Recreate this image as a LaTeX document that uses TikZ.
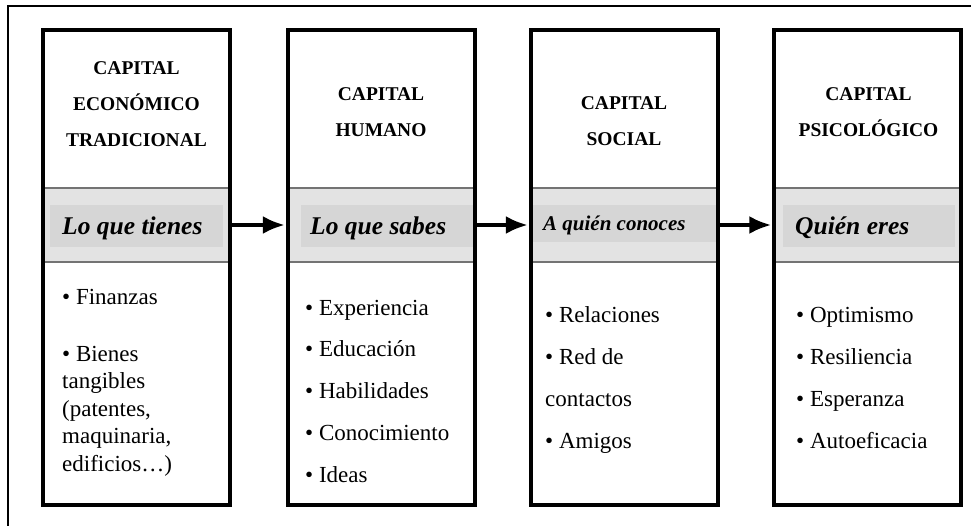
\documentclass[tikz,border=0pt]{standalone}
\usepackage{fontspec}
\setmainfont{Liberation Serif}
\usepackage{tikz}
\usetikzlibrary{positioning,arrows.meta}
\definecolor{grisclaro}{gray}{0.89}
\definecolor{grismedio}{gray}{0.84}

\begin{document}
\begin{tikzpicture}[x=1pt,y=-1pt,
	caja/.style={draw,line width=4pt,minimum width=187pt,minimum height=475pt,inner sep=0pt},
	franja/.style={fill=grisclaro,draw=black!55,line width=1.2pt,minimum width=187pt,minimum height=74pt,inner sep=0pt},
	titulo/.style={align=center,font=\fontsize{19.5}{36}\selectfont\bfseries,anchor=base},
	lema/.style={font=\fontsize{25.5}{30}\selectfont\bfseries\itshape,anchor=base west,inner sep=0pt},
	lista/.style={align=left,font=\fontsize{23}{41.7}\selectfont,anchor=base west,inner sep=0pt},
	flecha/.style={line width=4pt,-{Latex[length=22pt,width=18pt]},shorten >=2pt}]
	\useasboundingbox (0,0) rectangle (971,526);
	\draw[line width=1.2pt] (971,6) -| (8,526);

	% franjas grises
	\node[franja] (franja1) at (136.5,225) {};
	\node[franja] (franja2) at (381,225) {};
	\node[franja] (franja3) at (624,225) {};
	\node[franja] (franja4) at (867.5,225) {};
	\fill[grismedio] (50,205) rectangle (223,247);
	\fill[grismedio] (301,205) rectangle (473,247);
	\fill[grismedio] (531,205) rectangle (716,242);
	\fill[grismedio] (783,205) rectangle (955,247);

	% columnas
	\node[caja] (caja1) at (136.5,267.5) {};
	\node[caja] (caja2) at (381,267.5) {};
	\node[caja] (caja3) at (624,267.5) {};
	\node[caja] (caja4) at (867.5,267.5) {};

	% (base = ultima linea)
	\node[titulo] (titulo1) at (136.5,147) {CAPITAL\\ECONÓMICO\\TRADICIONAL};
	\node[titulo] (titulo2) at (381,137) {CAPITAL\\HUMANO};
	\node[titulo] (titulo3) at (624,146) {CAPITAL\\SOCIAL};
	\node[titulo] (titulo4) at (868.5,137) {CAPITAL\\PSICOLÓGICO};

	\node[lema] (lema1) at (62,235) {Lo que tienes};
	\node[lema] (lema2) at (310,235) {Lo que sabes};
	\node[lema,font=\fontsize{21}{25}\selectfont\bfseries\itshape] (lema3) at (543,231) {A quién conoces};
	\node[lema] (lema4) at (795,235) {Quién eres};

	\node[lista,font=\fontsize{23}{27.5}\selectfont] (lista1) at (62,471) {• Finanzas\\[29.5pt]• Bienes\\tangibles\\(patentes,\\maquinaria,\\edificios…)};
	\node[lista] (lista2) at (305,482) {• Experiencia\\• Educación\\• Habilidades\\• Conocimiento\\• Ideas};
	\node[lista] (lista3) at (545,448) {• Relaciones\\• Red de\\contactos\\• Amigos};
	\node[lista] (lista4) at (796,448) {• Optimismo\\• Resiliencia\\• Esperanza\\• Autoeficacia};

	\draw[flecha] (franja1.east) -- (franja2.west);
	\draw[flecha] (franja2.east) -- (franja3.west);
	\draw[flecha] (franja3.east) -- (franja4.west);
\end{tikzpicture}
\end{document}
